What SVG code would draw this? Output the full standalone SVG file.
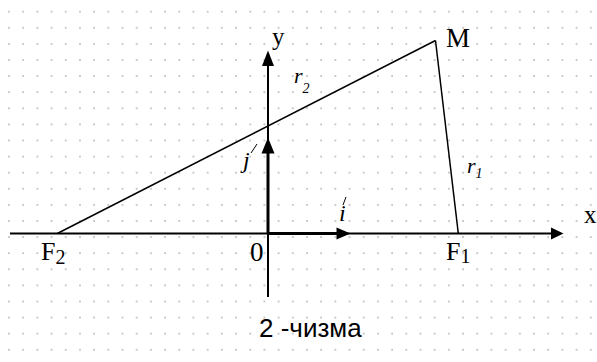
<svg xmlns="http://www.w3.org/2000/svg" width="597" height="362" viewBox="0 0 597 362">
<style>
.lbl{font-family:"Liberation Serif",serif;fill:#000}
.cap{font-family:"Liberation Sans",sans-serif;fill:#000}
.ln{stroke:#000;fill:none}
.ah{fill:#000;stroke:none}
</style>
<defs>
<pattern id="dots" patternUnits="userSpaceOnUse" x="8" y="10.7" width="14.19" height="16.1">
<rect x="0.3" y="0.3" width="1.4" height="1.4" fill="#9a9a9a"/>
</pattern>
</defs>
<rect width="597" height="362" fill="#fff"/>
<rect width="597" height="362" fill="url(#dots)"/>
<g id="connectors">
<g id="x-axis">
<line class="ln" x1="10" y1="233.5" x2="553" y2="233.5" stroke-width="2"/>
<polygon class="ah" points="563.5,233.5 551,227.5 551,239.5"/>
</g>
<g id="y-axis">
<line class="ln" x1="268" y1="297" x2="268" y2="64" stroke-width="2"/>
<polygon class="ah" points="268,50.5 262,66 274,66"/>
</g>
<g id="vec-j">
<line class="ln" x1="268" y1="234" x2="268" y2="150" stroke-width="3"/>
<polygon class="ah" points="268,137.5 261.5,153.5 274.5,153.5"/>
</g>
<g id="vec-i">
<line class="ln" x1="268" y1="233.5" x2="340" y2="233.5" stroke-width="3"/>
<polygon class="ah" points="350.5,233.5 336.5,227.5 336.5,239.5"/>
</g>
<g id="r2-line"><line class="ln" x1="57.3" y1="233.5" x2="435.5" y2="40.5" stroke-width="1.5"/></g>
<g id="r1-line"><line class="ln" x1="435.5" y1="40.5" x2="458.3" y2="233.5" stroke-width="1.5"/></g>
</g>
<g id="label-y"><text class="lbl" x="272" y="45" font-size="25">y</text></g>
<g id="label-x"><text class="lbl" x="584" y="223" font-size="25">x</text></g>
<g id="label-M"><text class="lbl" x="446" y="46.5" font-size="27">M</text></g>
<g id="label-F2"><text class="lbl" x="41" y="260" font-size="26">F<tspan font-size="20" dy="4">2</tspan></text></g>
<g id="label-F1"><text class="lbl" x="446" y="260" font-size="26">F<tspan font-size="20" dy="3">1</tspan></text></g>
<g id="label-O"><text class="lbl" x="250" y="260.5" font-size="27">0</text></g>
<g id="label-r2"><text class="lbl" x="294" y="83" font-size="22" font-style="italic">r<tspan font-size="14" dy="10">2</tspan></text></g>
<g id="label-r1"><text class="lbl" x="467" y="172.5" font-size="22" font-style="italic">r<tspan font-size="14" dy="5">1</tspan></text></g>
<g id="label-j">
<text class="lbl" x="243" y="168" font-size="24" font-style="italic">j</text>
<line class="ln" x1="251" y1="153" x2="257" y2="144" stroke-width="1"/>
</g>
<g id="label-i">
<text class="lbl" x="339" y="221" font-size="24" font-style="italic">i</text>
<line class="ln" x1="343" y1="205" x2="346" y2="197" stroke-width="1"/>
</g>
<g id="caption"><text class="cap" x="259" y="336.5" font-size="26">2 -чизма</text></g>
</svg>
